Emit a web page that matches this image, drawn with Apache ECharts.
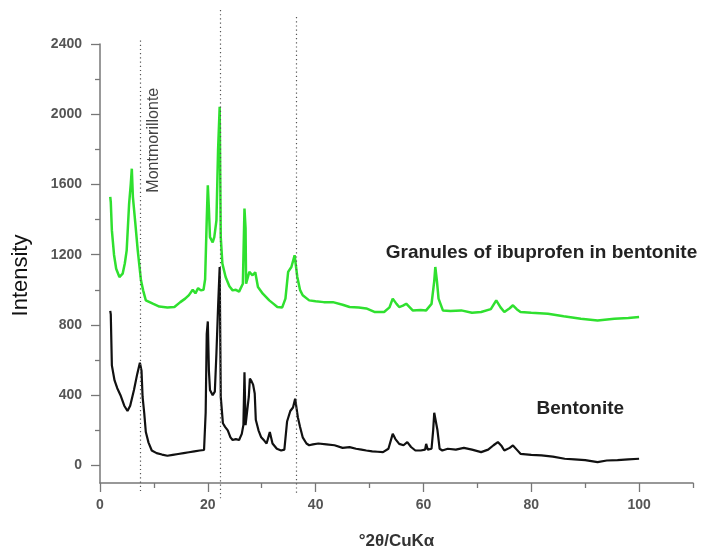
<!DOCTYPE html>
<html>
<head>
<meta charset="UTF-8">
<title>XRD bentonite</title>
<script src="https://cdn.jsdelivr.net/npm/echarts@6.0.0/dist/echarts.min.js"></script>
<style>
  body { margin: 0; background: #fff; }
  #main { width: 717px; height: 559px; }
</style>
</head>
<body>
<div id="main"></div>
<script>
// 2theta / intensity
var bentoniteTheta = [1.9, 2.0, 2.2, 2.7, 3.2, 3.8, 4.5, 5.1, 5.6, 6.3, 6.9, 7.4, 7.7, 7.9, 8.2, 8.5, 9.0, 9.6, 10.5, 11.5,
  12.5, 13.5, 14.5, 15.5, 16.5, 17.5, 18.5, 19.3, 19.6, 19.8, 20.0, 20.2, 20.4, 20.9, 21.3, 21.6, 21.9, 22.2, 22.4, 22.8,
  23.2, 23.7, 24.2, 24.6, 25.2, 25.8, 26.3, 26.6, 26.8, 27.0, 27.3, 27.6, 27.8, 28.1, 28.4, 28.7, 28.9, 29.4, 29.9, 30.5,
  30.9, 31.5, 32.0, 32.8, 33.6, 34.2, 34.7, 35.3, 35.8, 36.2, 36.7, 37.1, 37.6, 38.3, 38.8, 39.5, 40.5, 42, 43.5, 45,
  46.3, 47.5, 48.5, 49.4, 50.5, 51.5, 52.5, 53.5, 54.3, 54.8, 55.5, 56.3, 57.0, 57.7, 58.5, 59.5, 60.3, 60.5, 60.8, 61.5,
  61.8, 62.0, 62.3, 62.6, 63.0, 63.5, 64.5, 66, 67.5, 69, 70.7, 72, 73.0, 73.8, 74.5, 75.0, 76.0, 76.6, 77.3, 78.0,
  80, 81.9, 84, 86.2, 88, 90, 92.3, 94, 96, 98, 100];
var bentoniteIntensity = [880, 860, 570, 484, 440, 400, 340, 310, 340, 430, 520, 585, 540, 390, 300, 190, 130, 85, 70, 62,
  55, 60, 65, 70, 75, 80, 85, 88, 300, 750, 820, 540, 430, 400, 420, 640, 900, 1130, 390, 240,
  220, 200, 160, 145, 150, 145, 180, 230, 530, 230, 220, 390, 495, 480, 460, 410, 260, 200, 160, 140,
  125, 190, 125, 95, 85, 90, 250, 310, 330, 380, 275, 220, 160, 125, 115, 120, 125, 120, 115, 100,
  104, 95, 90, 85, 80, 78, 76, 95, 180, 150, 123, 115, 133, 105, 85, 85, 90, 123, 90, 95,
  200, 300, 290, 200, 95, 85, 95, 90, 100, 90, 76, 90, 115, 133, 110, 85, 100, 114, 90, 66,
  60, 57, 50, 38, 35, 30, 19, 28, 30, 35, 38];

var granulesTheta = [1.9, 2.0, 2.2, 2.6, 3.0, 3.6, 4.2, 4.6, 4.95, 5.4, 5.7, 5.9, 6.1, 6.55, 7.0, 7.6, 8.0, 8.5, 9.8, 11,
  12.5, 13.8, 14.9, 15.8, 16.5, 17.2, 17.7, 18.2, 18.7, 19.2, 19.5, 19.8, 20.0, 20.2, 20.4, 20.9, 21.2, 21.6, 21.9, 22.2,
  22.4, 22.7, 23.3, 24.0, 24.6, 25.2, 25.8, 26.5, 26.8, 27.0, 27.1, 27.7, 28.3, 28.8, 29.3, 30.2, 31.4, 32.2, 32.9, 33.8,
  34.4, 34.9, 35.5, 36.1, 36.6, 37.1, 37.6, 38.8, 40, 41.5, 43.2, 45, 46.3, 48, 49.4, 50.9, 52.7, 53.7, 54.3, 55.0,
  55.5, 56.2, 56.8, 58.0, 59.5, 60.5, 61.5, 62.0, 62.2, 62.5, 62.8, 63.6, 65, 67, 69, 70.7, 72.5, 73.5, 74.3, 75.0,
  76.0, 76.6, 77.3, 78.0, 80, 83.1, 86, 89.2, 92.3, 95.4, 98, 100];
var granulesIntensity = [1530, 1500, 1340, 1200, 1120, 1073, 1092, 1150, 1225, 1490, 1600, 1690, 1530, 1380, 1225, 1054, 997, 940, 921, 905,
  900, 902, 930, 950, 970, 1000, 980, 1010, 997, 1000, 1060, 1400, 1595, 1460, 1300, 1270, 1300, 1396, 1795, 2042,
  1300, 1150, 1073, 1020, 997, 1000, 990, 1035, 1463, 1350, 1035, 1102, 1083, 1100, 1016, 978, 940, 920, 902, 900,
  950, 1102, 1130, 1197, 1073, 1000, 969, 940, 935, 930, 930, 915, 902, 900, 894, 874, 874, 900, 950, 920,
  902, 910, 921, 883, 885, 883, 920, 1050, 1130, 1050, 950, 883, 880, 883, 870, 874, 890, 940, 900, 874,
  895, 912, 890, 874, 870, 864, 850, 836, 826, 836, 840, 845];

// dotted reference lines: 2theta and the ends of each line
var refTheta = [7.4, 22.3, 36.4];
var refTop = [2420, 2594, 2554];
var refBottom = [-160, -199, -171];

var xMajor = [0, 20, 40, 60, 80, 100];
var xMinor = [10, 30, 50, 70, 90, 110];
var yMajor = [0, 400, 800, 1200, 1600, 2000, 2400];
var yMinor = [200, 600, 1000, 1400, 1800, 2200];

function zip(a, b) {
  return a.map(function (v, i) { return [v, b[i]]; });
}

var FONT = 'Liberation Sans, Arial, sans-serif';
var AXIS = '#777';

var myChart = echarts.init(document.getElementById('main'));

var option = {
  animation: false,
  backgroundColor: '#fff',
  grid: [
    { left: 100, right: 24, top: 44, bottom: 76 },
    { left: 100, right: 24, top: 44, bottom: 76 },
    // same scale, taller: lets the dotted lines run past the frame
    { left: 100, right: 24, top: 8.92, bottom: 58.46 }
  ],
  xAxis: [
    {
      gridIndex: 0, type: 'value', min: 0, max: 110,
      name: '°2θ/CuKα', nameLocation: 'middle', nameGap: 50,
      nameTextStyle: { fontFamily: FONT, fontSize: 17, fontWeight: 'bold', color: '#333' },
      axisLine: { show: true, onZero: false, lineStyle: { color: AXIS, width: 1.5 } },
      axisTick: { show: true, length: 9, customValues: xMajor, lineStyle: { color: AXIS, width: 1.3 } },
      axisLabel: { customValues: xMajor, margin: 15, fontFamily: FONT, fontSize: 14, fontWeight: 'bold', color: '#555',
        formatter: function (v) { return String(v); } },
      splitLine: { show: false }
    },
    {
      gridIndex: 1, type: 'value', min: 0, max: 110,
      axisLine: { show: false, onZero: false },
      axisTick: { show: true, length: 5, customValues: xMinor, lineStyle: { color: AXIS, width: 1.3 } },
      axisLabel: { show: false },
      splitLine: { show: false }
    },
    { gridIndex: 2, type: 'value', min: 0, max: 110, show: false }
  ],
  yAxis: [
    {
      gridIndex: 0, type: 'value', min: -100, max: 2400,
      name: 'Intensity', nameLocation: 'middle', nameGap: 68,
      nameTextStyle: { fontFamily: FONT, fontSize: 22, color: '#111', padding: [0, 24, 0, 0] },
      axisLine: { show: true, onZero: false, lineStyle: { color: AXIS, width: 1.5 } },
      axisTick: { show: true, length: 9, customValues: yMajor, lineStyle: { color: AXIS, width: 1.3 } },
      axisLabel: { customValues: yMajor, margin: 18, fontFamily: FONT, fontSize: 14, fontWeight: 'bold', color: '#555',
        formatter: function (v) { return String(v); } },
      splitLine: { show: false }
    },
    {
      gridIndex: 1, type: 'value', min: -100, max: 2400,
      axisLine: { show: false, onZero: false },
      axisTick: { show: true, length: 5, customValues: yMinor, lineStyle: { color: AXIS, width: 1.3 } },
      axisLabel: { show: false },
      splitLine: { show: false }
    },
    { gridIndex: 2, type: 'value', min: -200, max: 2600, show: false }
  ],
  series: [
    {
      name: 'Granules of ibuprofen in bentonite',
      type: 'line', xAxisIndex: 0, yAxisIndex: 0,
      data: zip(granulesTheta, granulesIntensity),
      symbol: 'none',
      lineStyle: { color: '#2fe02f', width: 2.5 }
    },
    {
      name: 'Bentonite',
      type: 'line', xAxisIndex: 0, yAxisIndex: 0,
      data: zip(bentoniteTheta, bentoniteIntensity),
      symbol: 'none',
      lineStyle: { color: '#111', width: 2.2 },
      markPoint: {
        symbol: 'circle', symbolSize: 0, silent: true,
        data: [
          {
            coord: [9.9, 1852],
            label: { show: true, position: 'inside', rotate: 90, formatter: 'Montmorillonte',
              fontFamily: FONT, fontSize: 16, color: '#444' }
          },
          {
            coord: [81.9, 1209],
            label: { show: true, position: 'inside', formatter: 'Granules of ibuprofen in bentonite',
              fontFamily: FONT, fontSize: 19, fontWeight: 'bold', color: '#222' }
          },
          {
            coord: [89.1, 325],
            label: { show: true, position: 'inside', formatter: 'Bentonite',
              fontFamily: FONT, fontSize: 19, fontWeight: 'bold', color: '#222' }
          }
        ]
      }
    },
    {
      type: 'line', xAxisIndex: 2, yAxisIndex: 2, data: [], clip: false,
      markLine: {
        symbol: 'none', silent: true, label: { show: false },
        lineStyle: { color: '#555', width: 1.2, type: [1.2, 3] },
        data: refTheta.map(function (t, i) {
          return [{ coord: [t, refTop[i]] }, { coord: [t, refBottom[i]] }];
        })
      }
    }
  ]
};

myChart.setOption(option);
</script>
</body>
</html>
